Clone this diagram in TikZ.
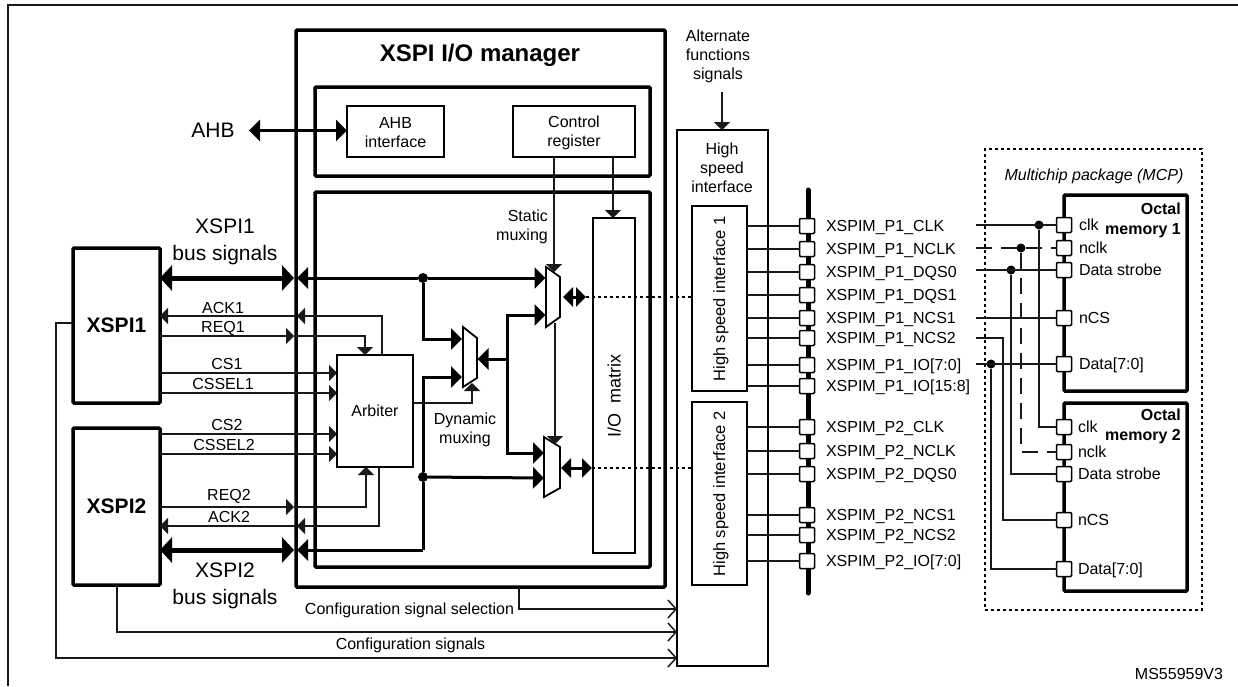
\documentclass[tikz,border=0pt]{standalone}
\usepackage{fontspec}
\setmainfont{Liberation Sans}
\usetikzlibrary{arrows.meta,calc}
\tikzset{
  x=1pt,y=-1pt,
  wire/.style={line width=1.5pt,draw=black!90},
  wired/.style={wire,dash pattern=on 16pt off 9pt},
  heavy/.style={line width=3pt,draw=black},
  busw/.style={line width=5pt,draw=black},
  dots/.style={line width=1.4pt,dash pattern=on 3pt off 3pt,draw=black},
  tipS/.tip={Triangle[length=8pt,width=16pt]},
  tipM/.tip={Triangle[length=11pt,width=21pt]},
  tipN/.tip={Triangle[length=10pt,width=19pt]},
  tipL/.tip={Triangle[length=12pt,width=25pt]},
  tipO/.tip={Straight Barb[length=8pt,width=18pt,line width=1.5pt]},
  boxthin/.style={draw=black,fill=white,line width=1.5pt,outer sep=0pt,inner sep=0pt,align=center,font=\ftM},
  boxthick/.style={boxthin,line width=3.5pt,rounded corners=1pt},
  pinb/.style={draw=black,fill=white,line width=1.5pt,minimum width=15pt,minimum height=15pt,inner sep=0pt,outer sep=0pt,rounded corners=1pt},
  dot/.style={circle,fill=black,inner sep=0pt,minimum size=#1,outer sep=0pt},
  dot/.default=10pt,
  lab/.style={inner sep=0pt,outer sep=0pt,font=\ftM,text height=11.5pt,text depth=0pt},
  labl/.style={lab,anchor=west},
  big/.style={inner sep=0pt,outer sep=0pt,font=\ftL,align=center},
  mux/.style={draw=black,fill=white,line width=1.8pt,line join=miter},
}
\newcommand{\ftM}{\fontsize{16}{19}\selectfont}
\newcommand{\ftP}{\fontsize{16}{19}\selectfont}
\newcommand{\ftL}{\fontsize{21}{27}\selectfont}
\newcommand{\bx}[7][boxthin]{%
  \pgfmathsetmacro\bxw{#5-#3}\pgfmathsetmacro\bxh{#6-#4}%
  \node[#1,minimum width=\bxw pt,minimum height=\bxh pt] (#2) at ({(#3+#5)/2},{(#4+#6)/2}) {#7};}
\newcommand{\pin}[4]{% name, x, y, label
  \node[pinb] (#1) at (#2,#3) {};
  \node[labl,font=\ftP] (#1t) at ($(#2,#3)+(19,0)$) {#4};}
\begin{document}
\begin{tikzpicture}
\useasboundingbox (0,0) rectangle (1238,686);
% outer frame
\coordinate (fa) at (8,686); \coordinate (fb) at (8,5); \coordinate (fc) at (1238,5);
\draw[wire,line width=1.6pt] (fa) -- (fb) -- (fc);
% main boxes
\bx[boxthick]{mgr}{296}{30}{665}{587}{}
\bx[boxthick]{upper}{315}{87}{650}{176}{}
\bx[boxthick]{lower}{315}{192}{650}{567}{}
\node[inner sep=0pt,font=\fontsize{24}{27}\selectfont\bfseries] (mgrt) at (480,55) {XSPI I/O manager};
\bx{ahbi}{347}{106}{444}{157}{}
\bx{ctrl}{513}{106}{635}{157}{}
\node[inner sep=0pt,align=center,font=\ftM] (ahbit) at (395.5,133) {AHB\\interface};
\node[inner sep=0pt,align=center,font=\ftM] (ctrlt) at (574,133) {Control\\register};
\bx{iom}{593}{218}{635}{553}{}
\node[lab,font=\fontsize{18}{20}\selectfont,rotate=90,text height=13pt] (iomt) at (614,396) {I/O\ \ matrix};
\bx{arb}{337}{355}{413}{467}{Arbiter}
\bx[boxthick]{xspia}{73}{248}{160}{403}{\fontsize{21}{25}\selectfont\bfseries XSPI1}
\bx[boxthick]{xspib}{73}{428}{160}{585}{\fontsize{21}{25}\selectfont\bfseries XSPI2}
% high speed interface
\bx{hs}{677}{130}{768}{666}{}
\node[inner sep=0pt,align=center,font=\ftM] (hst) at (722,168) {High\\speed\\interface};
\bx{hsa}{692}{206}{747}{391}{}
\bx{hsb}{692}{402}{747}{585}{}
\node[lab,font=\fontsize{16.5}{19}\selectfont,rotate=90,text height=12pt] (hsat) at (719,299) {High speed interface 1};
\node[lab,font=\fontsize{16.5}{19}\selectfont,rotate=90,text height=12pt] (hsbt) at (719,494) {High speed interface 2};
\node[inner sep=0pt,align=center,font=\ftM] (alt) at (718,56) {Alternate\\functions\\signals};
\coordinate (alts) at (722,92);
\draw[wire,-{tipS}] (alts) -- (hs.north -| alts);
% AHB
\node[big] (ahb) at (213,130) {AHB};
\coordinate (ahbl) at (249,130.5);
\draw[heavy,{tipM}-{tipM}] (ahbl) -- (ahbi.west |- ahbl);
% bus labels
\node[big] (bus1) at (225,242) {XSPI1\\bus signals};
\node[big] (bus2) at (225,586) {XSPI2\\bus signals};
% junctions and mux
\coordinate (ml1) at (294,278); \coordinate (mr1) at (297,278);
\coordinate (ml2) at (294,550); \coordinate (mr2) at (297,550);
\node[dot] (j1) at (423,278) {};
\node[dot] (j2) at (423,477) {};
\coordinate (c2) at (423,550);
\coordinate (m1a) at (545.5,278); \coordinate (m1b) at (545.5,315);
\coordinate (m2a) at (544,453); \coordinate (m2b) at (544,478);
\coordinate (dna) at (462,339); \coordinate (dnb) at (462,377);
\coordinate (dno) at (477.5,359);
\coordinate (busm) at (507,359);
% thick buses XSPI <-> manager
\draw[busw,{tipL}-{tipL}] (xspia.east |- ml1) -- (ml1);
\draw[busw,{tipL}-{tipL}] (xspib.east |- ml2) -- (ml2);
\draw[heavy,{tipM}-] (mr1) -- (j1);
\draw[heavy,-{tipM}] (j1) -- (m1a);
\draw[heavy,-{tipM}] (j1) |- (dna);
\draw[heavy,{tipM}-] (mr2) -- (c2);
\draw[heavy] (c2) -- (j2);
\draw[heavy,-{tipM}] (j2) -- (m2b);
\draw[heavy,-{tipM}] (j2) |- (dnb);
% dynamic output bus
\draw[heavy,-{tipM}] (busm) -- (dno);
\draw[heavy,-{tipM}] (busm) |- (m1b);
\draw[heavy,-{tipM}] (busm) |- (m2a);
% muxes
\draw[mux] (463,327) coordinate (dntl) -- (477,338) -- (477,378) -- (463,387) coordinate (dnbl) -- cycle;
\draw[mux] (546,267) coordinate (m1tl) -- (560,277) -- (560,317) -- (546,327) coordinate (m1bl) -- cycle;
\draw[mux] (544,437) coordinate (m2tl) -- (560,447) -- (560,488) -- (544,497) coordinate (m2bl) -- cycle;
% control
\coordinate (m1top) at (554,272); \coordinate (m1low) at (555,323); \coordinate (m2top) at (555,444);
\draw[wire,-{tipS}] (m1top |- ctrl.south) -- (m1top);
\draw[wire,-{tipS}] (m1low) -- (m2top);
\coordinate (iomx) at (613,218);
\draw[wire,-{tipS}] (iomx |- ctrl.south) -- (iomx);
% mux to hs interfaces
\coordinate (bd1a) at (563,297); \coordinate (bd1b) at (586,297);
\coordinate (bd2a) at (561,468); \coordinate (bd2b) at (592,468);
\draw[heavy,{tipN}-{tipN}] (bd1a) -- (bd1b);
\draw[heavy,{tipN}-{tipN}] (bd2a) -- (bd2b);
\draw[dots] (bd1b) -- (hsa.west |- bd1b);
\draw[dots] (bd2b) -- (hsb.west |- bd2b);
% control signals
\coordinate (ack1m) at (297,316); \coordinate (ack1c) at (382,316);
\draw[wire,{tipS}-] (xspia.east |- ack1m) -- (ack1m);
\draw[wire,{tipS}-] (ack1m) -- (ack1c) -- (ack1c |- arb.north);
\coordinate (req1m) at (294,336); \coordinate (req1c) at (365,336);
\draw[wire,-{tipS}] (xspia.east |- req1m) -- (req1m);
\draw[wire,-{tipS}] (req1m) -- (req1c) -- (req1c |- arb.north);
\coordinate (cs1) at (337,373); \coordinate (cssel1) at (337,393);
\coordinate (cs2) at (337,434); \coordinate (cssel2) at (337,454);
\draw[wire,-{tipS}] (xspia.east |- cs1) -- (cs1);
\draw[wire,-{tipS}] (xspia.east |- cssel1) -- (cssel1);
\draw[wire,-{tipS}] (xspib.east |- cs2) -- (cs2);
\draw[wire,-{tipS}] (xspib.east |- cssel2) -- (cssel2);
\coordinate (req2m) at (294,507); \coordinate (req2c) at (366,507);
\draw[wire,-{tipS}] (xspib.east |- req2m) -- (req2m);
\draw[wire,-{tipS}] (req2m) -- (req2c) -- (req2c |- arb.south);
\coordinate (ack2m) at (297,526); \coordinate (ack2c) at (379,526);
\draw[wire,{tipS}-] (xspib.east |- ack2m) -- (ack2m);
\draw[wire,{tipS}-] (ack2m) -- (ack2c) -- (ack2c |- arb.south);
\coordinate (arbo) at (413,403); \coordinate (dyc) at (472,403); \coordinate (dyt) at (472,383);
\draw[wire,-{tipS}] (arbo) -- (dyc) -- (dyt);
% labels
\node[lab] (ack1) at (223,308) {ACK1};
\node[lab] (req1) at (223,327) {REQ1};
\node[lab] (cs1t) at (227,364) {CS1};
\node[lab] (css1t) at (223,384) {CSSEL1};
\node[lab] (cs2t) at (227,425) {CS2};
\node[lab] (css2t) at (224,445) {CSSEL2};
\node[lab] (req2) at (229,495) {REQ2};
\node[lab] (ack2) at (229,517) {ACK2};
\node[inner sep=0pt,align=center,font=\ftM] (dyn) at (465,430) {Dynamic\\muxing};
\node[inner sep=0pt,align=right,font=\ftM,anchor=east] (sta) at (548,227) {Static\\muxing};
% configuration
\coordinate (sel) at (519,609);
\draw[wire,-{tipO}] (mgr.south -| sel) -- (sel) -- (hs.west |- sel);
\coordinate (cfg2) at (117,632);
\draw[wire,-{tipO}] (xspib.south -| cfg2) -- (cfg2) -- (hs.west |- cfg2);
\coordinate (cfg1a) at (56,323); \coordinate (cfg1b) at (56,658);
\draw[wire,-{tipO}] (xspia.west |- cfg1a) -- (cfg1a) -- (cfg1b) -- (hs.west |- cfg1b);
\node[inner sep=0pt,font=\ftM] (selt) at (409.5,610) {Configuration signal selection};
\node[inner sep=0pt,font=\ftM] (cfgt) at (410.5,645) {Configuration signals};
% port bus
\coordinate (bt) at (808,190); \coordinate (bb) at (808,593);
\draw[busw,line cap=round] (bt) -- (bb);
% MCP
\bx[draw=black,line width=1.5pt,dash pattern=on 3pt off 3pt,outer sep=0pt,inner sep=0pt]{mcp}{985}{149}{1202}{610}{}
\node[inner sep=0pt,font=\ftM\itshape] (mcpt) at (1094,176) {Multichip package (MCP)};
\bx[boxthick]{mema}{1064}{195}{1187}{391}{}
\bx[boxthick]{memb}{1064}{403}{1187}{591}{}
\node[inner sep=0pt,align=right,anchor=north east,font=\fontsize{16}{20}\selectfont\bfseries] (mat) at (1181,202.5) {Octal\\memory 1};
\node[inner sep=0pt,align=right,anchor=north east,font=\fontsize{16}{20}\selectfont\bfseries] (mbt) at (1181,408.5) {Octal\\memory 2};
\node[inner sep=0pt,font=\ftM] (msid) at (1179,674) {MS55959V3};
% P pins
\foreach \n/\y/\t/\g in {pa/226/CLK/hsa,pb/249/NCLK/hsa,pc/272/DQS0/hsa,pd/295/DQS1/hsa,pe/318/NCS1/hsa,pf/338/NCS2/hsa,pg/365/IO[7:0]/hsa,ph/386/IO[15:8]/hsa}{
  \pin{\n}{807}{\y}{XSPIM\_P1\_\t}
  \draw[wire] (\g.east |- \n) -- (\n);
}
\foreach \n/\y/\t/\g in {qa/427/CLK/hsb,qb/451/NCLK/hsb,qc/474/DQS0/hsb,qe/515/NCS1/hsb,qf/535/NCS2/hsb,qg/561/IO[7:0]/hsb}{
  \pin{\n}{807}{\y}{XSPIM\_P2\_\t}
  \draw[wire] (\g.east |- \n) -- (\n);
}
% memory pins
\foreach \n/\y/\t in {ma/225/clk,mb/248/nclk,mc/270/Data strobe,me/318/nCS,mg/364/Data[7:0]}{
  \node[pinb] (\n) at (1064,\y) {};
  \node[labl] (\n t) at (1079,\y) {\t};
}
\foreach \n/\y/\t in {na/427/clk,nb/452/nclk,nc/474/Data strobe,ne/520/nCS,ng/569/Data[7:0]}{
  \node[pinb] (\n) at (1064,\y) {};
  \node[labl] (\n t) at (1078,\y) {\t};
}
% wires to memories
\coordinate (sa) at (976,225); \coordinate (sb) at (976,248); \coordinate (sc) at (976,270);
\coordinate (se) at (976,318); \coordinate (sf) at (976,338); \coordinate (sg) at (976,364);
\node[dot=9pt] (ja) at (1039,225) {};
\node[dot=9pt] (jb) at (1021,248) {};
\node[dot=9pt] (jc) at (1011,270) {};
\node[dot=9pt] (jg) at (991,364) {};
\coordinate (sfc) at (1003,338);
\draw[wire] (sa) -- (ma);
\draw[wired] (sb) -- (mb);
\draw[wire] (sc) -- (mc);
\draw[wire] (se) -- (me);
\draw[wire] (sg) -- (mg);
\draw[wire] (ja) |- (na);
\draw[wired] (jb) |- (nb);
\draw[wire] (jc) |- (nc);
\draw[wire] (jg) |- (ng);
\draw[wire] (sf) -- (sfc) |- (ne);
\end{tikzpicture}
\end{document}
